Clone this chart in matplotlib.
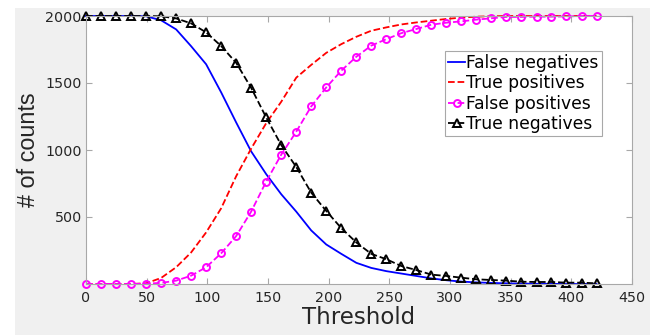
import matplotlib
matplotlib.use("Agg")
import matplotlib.pyplot as plt
from matplotlib.patches import Rectangle

plt.rcParams['font.family'] = ['DejaVu Sans']

# thresholds where the curves were sampled (marker positions)
thresholds = [0, 12.4, 24.8, 37.1, 49.5, 61.9, 74.3, 86.6, 99, 111.4, 123.8, 136.1,
              148.5, 160.9, 173.3, 185.6, 198, 210.4, 222.8, 235.1, 247.5, 259.9,
              272.3, 284.6, 297, 309.4, 321.8, 334.1, 346.5, 358.9, 371.3, 383.6,
              396, 408.4, 420.8]

false_neg = [2000, 2000, 2000, 2000, 1998, 1968, 1900, 1775, 1640, 1430, 1205, 990,
             820, 670, 540, 400, 295, 225, 158, 120, 96, 78, 60, 42, 28, 18, 12, 8,
             5, 3, 2, 1, 0, 0, 0]
true_pos = [0, 0, 0, 0, 5, 45, 125, 235, 385, 565, 805, 1010, 1200, 1360, 1540, 1635,
            1725, 1790, 1845, 1890, 1915, 1937, 1952, 1965, 1978, 1988, 1995, 1998,
            2000, 2000, 2000, 2000, 2000, 2000, 2000]
false_pos = [0, 0, 0, 0, 3, 8, 25, 62, 125, 229, 358, 540, 764, 965, 1137, 1325, 1467,
             1592, 1696, 1779, 1827, 1872, 1903, 1935, 1950, 1960, 1973, 1983, 1993,
             1993, 1995, 1995, 1997, 2000, 2000]
true_neg = [2000, 2000, 2000, 2000, 2000, 1998, 1982, 1945, 1878, 1776, 1650, 1464, 1243,
            1037, 873, 682, 545, 417, 310, 225, 185, 134, 104, 70, 60, 47, 35, 30, 25,
            17, 15, 15, 10, 10, 5]

labels = ["False negatives", "True positives", "False positives", "True negatives"]

fig = plt.figure(figsize=(6.56, 3.35), dpi=100, facecolor='white')
# grey window background like the screenshot
fig.patches.append(Rectangle((15 / 656, 0), 635 / 656, 327 / 335, transform=fig.transFigure,
                             facecolor='#f0f0f0', edgecolor='none', zorder=-10))
ax = fig.add_axes([86 / 656, 1 - 284 / 335, 546 / 656, 268 / 335])
ax.set_facecolor('white')

ax.plot(thresholds, false_neg, color='#0000ff', lw=1.3, label=labels[0], clip_on=False)
ax.plot(thresholds, true_pos, color='#ff0000', ls='--', lw=1.3, label=labels[1], clip_on=False)
ax.plot(thresholds, false_pos, color='#ff00ff', ls='--', lw=1.3, marker='o', ms=5,
        mfc='none', mec='#ff00ff', mew=1.4, label=labels[2], clip_on=False)
ax.plot(thresholds, true_neg, color='black', ls='--', lw=1.3, marker='^', ms=5.5,
        mfc='none', mec='black', mew=1.4, label=labels[3], clip_on=False)

ax.set_xlim(0, 450)
ax.set_ylim(0, 2000)
ax.set_xticks(range(0, 451, 50))
ax.set_yticks([500, 1000, 1500, 2000])

for s in ax.spines.values():
    s.set_color('#a8a8a8')
    s.set_linewidth(0.8)
ax.tick_params(direction='in', length=4, width=0.8, color='#a8a8a8', labelcolor='#262626',
               labelsize=10.3, top=True, right=True)
ax.tick_params(axis='x', pad=5)
ax.tick_params(axis='y', pad=3)

ax.set_xlabel("Threshold", fontsize=16.5, color='#262626', labelpad=1)
ax.set_ylabel("# of counts", fontsize=16.8, color='#262626', family='Liberation Sans', labelpad=4)

leg = ax.legend(loc='upper left', bbox_to_anchor=(0.6575, 0.8694), borderaxespad=0,
                fontsize=12.3, handlelength=0.95, handletextpad=0.1, borderpad=0.2,
                labelspacing=0.12, fancybox=False, framealpha=1, edgecolor='#a8a8a8',
                markerscale=1.0)
leg.get_frame().set_linewidth(0.8)
for t in leg.get_texts():
    t.set_color('black')

fig.savefig("out.png", dpi=100, facecolor=fig.get_facecolor())
